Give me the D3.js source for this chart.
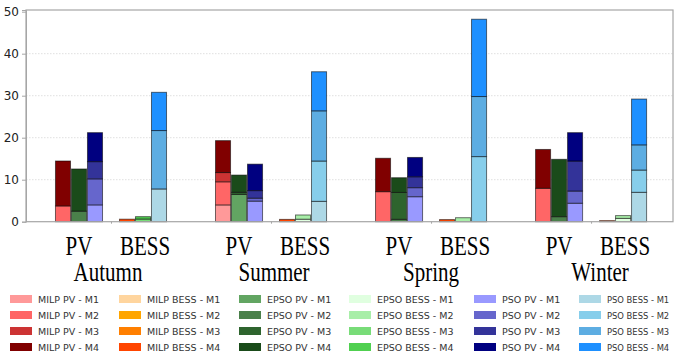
<!DOCTYPE html>
<html><head><meta charset="utf-8">
<script src="https://cdn.jsdelivr.net/npm/d3@7"></script>
<style>
html,body{margin:0;padding:0;background:#fff;}
svg{display:block;}
</style></head>
<body>
<svg id="chart" width="676" height="356"></svg>
<script>
// ---- data ----
const seasons = ["Autumn", "Summer", "Spring", "Winter"];
const techs = ["PV", "BESS"];
const methods = ["MILP", "EPSO", "PSO"];
const levels = ["M1", "M2", "M3", "M4"];
const yTicks = [0, 10, 20, 30, 40, 50];

// stacked segment heights per season: [M1, M2, M3, M4]
const milpPV   = [[0, 3.75, 0, 10.7], [4.0, 5.5, 2.2, 7.6], [0, 7.15, 0, 7.95], [0, 7.95, 0, 9.25]];
const milpBESS = [[0, 0, 0, 0.6], [0, 0, 0, 0.55], [0, 0, 0, 0.5], [0, 0, 0, 0.25]];
const epsoPV   = [[0, 2.5, 0, 10.05], [6.5, 0, 0.5, 4.1], [0, 0.57, 6.4, 3.5], [0, 1.2, 0, 13.65]];
const epsoBESS = [[0, 0, 0.65, 0.55], [0.6, 1.0, 0, 0], [0, 0.95, 0, 0], [0.8, 0.65, 0, 0]];
const psoPV    = [[4.0, 6.2, 4.1, 6.9], [4.9, 0.7, 1.8, 6.3], [5.95, 2.15, 2.6, 4.6], [4.4, 2.9, 7.15, 6.75]];
const psoBESS  = [[7.8, 0, 13.9, 9.1], [4.85, 9.6, 11.95, 9.3], [0, 15.5, 14.3, 18.4], [7.0, 5.3, 6.0, 10.9]];

const colMilpPV   = ["#ff9999", "#ff6666", "#cc3333", "#800000"];
const colMilpBESS = ["#ffd59e", "#ffa500", "#ff7f00", "#ff4500"];
const colEpsoPV   = ["#62a562", "#4a804a", "#2e642e", "#1a4b1a"];
const colEpsoBESS = ["#e0ffe0", "#a8eea8", "#78dc78", "#50d050"];
const colPsoPV    = ["#9999ff", "#6666cc", "#333399", "#000080"];
const colPsoBESS  = ["#add8e6", "#87ceeb", "#5dade2", "#1e90ff"];

// ---- build series ----
const seriesList = [
  {method: "MILP", tech: "PV",   data: milpPV,   colors: colMilpPV},
  {method: "MILP", tech: "BESS", data: milpBESS, colors: colMilpBESS},
  {method: "EPSO", tech: "PV",   data: epsoPV,   colors: colEpsoPV},
  {method: "EPSO", tech: "BESS", data: epsoBESS, colors: colEpsoBESS},
  {method: "PSO",  tech: "PV",   data: psoPV,    colors: colPsoPV},
  {method: "PSO",  tech: "BESS", data: psoBESS,  colors: colPsoBESS}
];

const svg = d3.select("#chart");
const pL = 26, pR = 673, pT = 10, pB = 221.7;

// group positions: season s, tech t -> s*2.5 + t
const pos = (s, t) => s * 2.5 + t;
const x = d3.scaleLinear().domain([-0.828, 9.28]).range([pL, pR]);
const y = d3.scaleLinear().domain([0, 50.4]).range([pB, pT]);
const barOff = 0.25, barW = 0.235;

// grid
svg.append("g").selectAll("line").data(yTicks.filter(d => d > 0 && d < 50)).join("line")
  .attr("x1", pL).attr("x2", pR)
  .attr("y1", d => y(d)).attr("y2", d => y(d))
  .attr("stroke", "#d8d8d8").attr("stroke-width", 0.8).attr("stroke-dasharray", "1.5,1.5");

// bars
const rects = [];
seriesList.forEach(sr => {
  const mi = methods.indexOf(sr.method);
  const ti = techs.indexOf(sr.tech);
  sr.data.forEach((vals, si) => {
    let acc = 0;
    vals.forEach((v, li) => {
      if (v > 0) {
        rects.push({x: pos(si, ti) + (mi - 1) * barOff, y0: acc, y1: acc + v, color: sr.colors[li]});
      }
      acc += v;
    });
  });
});
svg.append("g").selectAll("rect").data(rects).join("rect")
  .attr("x", d => x(d.x - barW / 2))
  .attr("width", d => x(d.x + barW / 2) - x(d.x - barW / 2))
  .attr("y", d => y(d.y1))
  .attr("height", d => y(d.y0) - y(d.y1))
  .attr("fill", d => d.color)
  .attr("stroke", "rgba(0,0,0,0.55)").attr("stroke-width", 1);

// frame
svg.append("rect").attr("x", pL).attr("y", pT).attr("width", pR - pL).attr("height", pB - pT)
  .attr("fill", "none").attr("stroke", "#a6a6a6").attr("stroke-width", 1.2);

// y axis
const yAxis = d3.axisLeft(y).tickValues(yTicks).tickSize(4).tickPadding(3).tickFormat(d3.format("d"));
const ga = svg.append("g").attr("transform", `translate(${pL},0)`).call(yAxis);
ga.select(".domain").attr("stroke", "#a6a6a6");
ga.selectAll(".tick line").attr("stroke", "#a6a6a6");
ga.selectAll("text").attr("font-family", "DejaVu Sans").attr("font-size", 12).attr("fill", "#222");

// x small ticks at season centers
const xAxis = d3.axisBottom(x).tickValues(seasons.map((s, i) => pos(i, 0.5))).tickSize(2).tickFormat("");
const gx = svg.append("g").attr("transform", `translate(0,${pB})`).call(xAxis);
gx.select(".domain").remove();
gx.selectAll(".tick line").attr("stroke", "#a6a6a6");

// category labels
const seasonShift = [-3, 3, 0, 9];
const labG = svg.append("g").attr("font-family", "Liberation Serif, Times New Roman, serif").attr("fill", "#000");
seasons.forEach((s, si) => {
  techs.forEach((t, ti) => {
    labG.append("text").attr("text-anchor", "middle").attr("font-size", 21)
      .attr("transform", `translate(${x(pos(si, ti)) + (ti ? 2 : 0)},255) scale(1,1.3)`).text(t);
  });
  labG.append("text").attr("text-anchor", "middle").attr("font-size", 21)
    .attr("transform", `translate(${x(pos(si, 0.5)) + seasonShift[si]},281) scale(1,1.3)`).text(s);
});

// legend
const legCols = [10, 119, 239, 349, 474, 579];
const legRows = [299, 315, 331, 347];
const legItems = [];
seriesList.forEach((sr, ci) => {
  levels.forEach((lv, ri) => {
    legItems.push({col: ci, row: ri, color: sr.colors[ri], label: `${sr.method} ${sr.tech} - ${lv}`});
  });
});
const lg = svg.append("g").selectAll("g").data(legItems).join("g")
  .attr("transform", d => `translate(${legCols[d.col]},${legRows[d.row]})`);
lg.append("rect").attr("x", 0).attr("y", -4).attr("width", 22).attr("height", 8).attr("fill", d => d.color);
const lt = lg.append("text").attr("x", 28).attr("y", 3.5).attr("font-family", "DejaVu Sans")
  .attr("font-size", d => d.col === 5 ? 8.4 : 9.5)
  .attr("fill", "#333").text(d => d.label);
</script>
</body></html>
